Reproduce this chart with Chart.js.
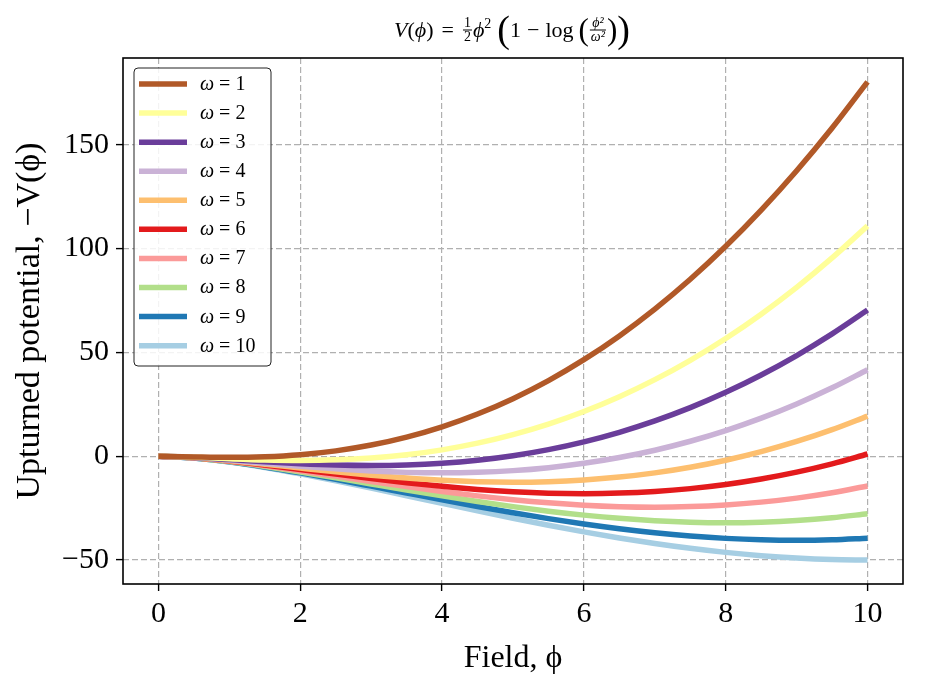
<!DOCTYPE html>
<html><head><meta charset="utf-8">
<script src="https://cdn.jsdelivr.net/npm/chart.js@4.4.0/dist/chart.umd.min.js"></script>
<style>html,body{margin:0;padding:0;background:#fff;}#wrap{width:925px;height:678px;}</style>
</head><body><div id="wrap"><canvas id="c" width="925" height="678"></canvas></div>
<script>
// Field values (x) and series values
const phi = [0,0.5,1,1.5,2,2.5,3,3.5,4,4.5,5,5.5,6,6.5,7,7.5,8,8.5,9,9.5,10];
const omegas = [1,2,3,4,5,6,7,8,9,10];
const w1 = [0,-0.30,-0.50,-0.21,0.77,2.60,5.39,9.22,14.18,20.33,27.74,36.44,46.50,57.96,70.85,85.21,101.08,118.50,137.47,158.06,180.26];
const w2 = [0,-0.47,-1.19,-1.77,-2.00,-1.73,-0.85,0.73,3.09,6.30,10.41,15.48,21.55,28.67,36.89,46.22,56.72,68.42,81.33,95.50,110.95];
const w3 = [0,-0.57,-1.60,-2.69,-3.62,-4.26,-4.50,-4.24,-3.40,-1.91,0.27,3.21,6.96,11.54,17.02,23.42,30.77,39.12,48.49,58.91,70.40];
const w4 = [0,-0.65,-1.89,-3.33,-4.77,-6.06,-7.09,-7.76,-8.00,-7.74,-6.92,-5.49,-3.40,-0.61,2.92,7.23,12.36,18.34,25.18,32.94,41.63];
const w5 = [0,-0.70,-2.11,-3.83,-5.67,-7.46,-9.10,-10.49,-11.57,-12.26,-12.50,-12.24,-11.43,-10.04,-8.01,-5.32,-1.92,2.22,7.11,12.81,19.32];
const w6 = [0,-0.75,-2.29,-4.25,-6.40,-8.60,-10.74,-12.73,-14.49,-15.95,-17.06,-17.76,-18.00,-17.75,-16.95,-15.58,-13.59,-10.96,-7.66,-3.66,1.08];
const w7 = [0,-0.78,-2.45,-4.59,-7.01,-9.56,-12.13,-14.62,-16.95,-19.07,-20.91,-22.42,-23.55,-24.26,-24.50,-24.24,-23.46,-22.09,-20.15,-17.56,-14.33];
const w8 = [0,-0.82,-2.58,-4.89,-7.55,-10.39,-13.33,-16.25,-19.09,-21.78,-24.25,-26.46,-28.35,-29.90,-31.04,-31.75,-32.00,-31.74,-30.96,-29.61,-27.68];
const w9 = [0,-0.85,-2.70,-5.16,-8.02,-11.13,-14.39,-17.69,-20.97,-24.16,-27.20,-30.02,-32.59,-34.87,-36.81,-38.38,-39.54,-40.25,-40.50,-40.24,-39.46];
const w10 = [0,-0.87,-2.80,-5.39,-8.44,-11.79,-15.34,-18.99,-22.66,-26.30,-29.83,-33.21,-36.39,-39.33,-41.98,-44.31,-46.28,-47.87,-49.04,-49.76,-50.00];
const seriesList = [w1,w2,w3,w4,w5,w6,w7,w8,w9,w10];
const xTicks = [0,2,4,6,8,10];
const yTicks = [-50,0,50,100,150];
const colors = ['#b15928','#ffff99','#6a3d9a','#cab2d6','#fdbf6f','#e31a1c','#fb9a99','#b2df8a','#1f78b4','#a6cee3'];

const SERIF = "'Liberation Serif','DejaVu Serif',serif";
const F = (sz,it)=>(it?'italic ':'')+sz+'px '+SERIF;

const datasets = seriesList.map((s,k)=>({
  label: 'ω = '+omegas[k],
  data: phi.map((x,i)=>({x:x,y:s[i]})),
  borderColor: colors[k],
  backgroundColor: colors[k],
  borderWidth: 5.5,
  pointRadius: 0,
  fill: false,
  cubicInterpolationMode: 'monotone'
}));

const fmt = v => v<0 ? '\u2212'+Math.abs(v) : String(v);

const decor = {
  id:'decor',
  afterDatasetsDraw(chart){
    const {ctx, chartArea:a} = chart;
    ctx.save();
    ctx.strokeStyle='#000'; ctx.lineWidth=1.6;
    ctx.strokeRect(a.left, a.top, a.right-a.left, a.bottom-a.top);
    ctx.restore();
  },
  afterDraw(chart){
    const ctx = chart.ctx;
    ctx.save();
    const bx=134, by=68, bw=137, bh=298, r=4;
    ctx.beginPath();
    ctx.moveTo(bx+r,by); ctx.lineTo(bx+bw-r,by); ctx.quadraticCurveTo(bx+bw,by,bx+bw,by+r);
    ctx.lineTo(bx+bw,by+bh-r); ctx.quadraticCurveTo(bx+bw,by+bh,bx+bw-r,by+bh);
    ctx.lineTo(bx+r,by+bh); ctx.quadraticCurveTo(bx,by+bh,bx,by+bh-r);
    ctx.lineTo(bx,by+r); ctx.quadraticCurveTo(bx,by,bx+r,by); ctx.closePath();
    ctx.fillStyle='rgba(255,255,255,0.85)'; ctx.fill();
    ctx.strokeStyle='#222'; ctx.lineWidth=1; ctx.stroke();
    chart.data.datasets.forEach((d,i)=>{
      const y = 84 + i*29.07;
      ctx.strokeStyle=d.borderColor; ctx.lineWidth=5.5; ctx.lineCap='butt';
      ctx.beginPath(); ctx.moveTo(139,y); ctx.lineTo(187,y); ctx.stroke();
      ctx.fillStyle='#000'; ctx.textBaseline='alphabetic'; ctx.textAlign='left';
      ctx.font=F(20,1); ctx.fillText('ω',200,y+6);
      let x=200+ctx.measureText('ω').width+5;
      ctx.font=F(20); ctx.fillText('=',x,y+6);
      x+=ctx.measureText('=').width+5;
      ctx.fillText(String(omegas[i]),x,y+6);
    });
    ctx.restore();
    drawTitle(ctx);
  }
};

function drawTitle(ctx){
  const base=37, bar=30;
  const segs=[
    {t:'V',f:F(22,1)},{t:'(',f:F(22)},{t:'ϕ',f:F(22,1)},{t:')',f:F(22)},{gap:8},{t:'=',f:F(22)},{gap:8},
    {frac:['1','2'],f:F(14)},{t:'ϕ',f:F(22,1)},{t:'2',f:F(14),dy:-9},{gap:6},
    {t:'(',f:F(38),dy:5},{t:'1',f:F(22)},{gap:6},{t:'\u2212',f:F(22)},{gap:6},{t:'log',f:F(22)},{gap:5},
    {t:'(',f:F(31),dy:3},{frac:['ϕ²','ω²'],f:F(14,1)},{t:')',f:F(31),dy:3},{t:')',f:F(38),dy:5}
  ];
  ctx.save();
  ctx.fillStyle='#000'; ctx.textBaseline='alphabetic'; ctx.textAlign='left';
  let W=0;
  segs.forEach(s=>{
    if(s.gap){s.w=s.gap;}
    else if(s.frac){ctx.font=s.f; s.w=Math.max(ctx.measureText(s.frac[0]).width,ctx.measureText(s.frac[1]).width)+4;}
    else {ctx.font=s.f; s.w=ctx.measureText(s.t).width;}
    W+=s.w;
  });
  let x=512-W/2;
  segs.forEach(s=>{
    if(s.frac){
      ctx.font=s.f;
      const w0=ctx.measureText(s.frac[0]).width, w1=ctx.measureText(s.frac[1]).width;
      ctx.fillText(s.frac[0], x+(s.w-w0)/2, bar-3);
      ctx.fillText(s.frac[1], x+(s.w-w1)/2, bar+11);
      ctx.fillRect(x+1, bar-0.5, s.w-2, 1);
    } else if(!s.gap){
      ctx.font=s.f; ctx.fillText(s.t, x, base+(s.dy||0));
    }
    x+=s.w;
  });
  ctx.restore();
}

new Chart(document.getElementById('c'),{
  type:'line',
  data:{datasets:datasets},
  options:{
    responsive:false, animation:false, devicePixelRatio:1,
    layout:{padding:{top:58,right:22,left:0,bottom:0}},
    plugins:{legend:{display:false},title:{display:false},tooltip:{enabled:false}},
    scales:{
      x:{
        type:'linear', min:-0.5, max:10.5,
        afterFit(s){s.height=94;},
        afterBuildTicks(s){s.ticks=xTicks.map(v=>({value:v}));},
        ticks:{font:{family:SERIF,size:30},color:'#000',padding:5,maxRotation:0,autoSkip:false,callback:fmt},
        grid:{color:'#b0b0b0',lineWidth:1.2,tickColor:'#000',tickLength:7,tickWidth:1.4,tickBorderDash:[]},
        border:{display:false,dash:[6,3]},
        title:{display:true,text:'Field, ϕ',font:{family:SERIF,size:32},color:'#000',padding:{top:9,bottom:0}}
      },
      y:{
        type:'linear', min:-61.51, max:191.77,
        afterFit(s){s.width=123;},
        afterBuildTicks(s){s.ticks=yTicks.map(v=>({value:v}));},
        ticks:{font:{family:SERIF,size:30},color:'#000',padding:7,autoSkip:false,callback:fmt},
        grid:{color:'#b0b0b0',lineWidth:1.2,tickColor:'#000',tickLength:7,tickWidth:1.4,tickBorderDash:[]},
        border:{display:false,dash:[6,3]},
        title:{display:true,text:'Upturned potential, \u2212V(ϕ)',font:{family:SERIF,size:34},color:'#000',padding:{top:10,bottom:0}}
      }
    }
  },
  plugins:[decor]
});
</script></body></html>
